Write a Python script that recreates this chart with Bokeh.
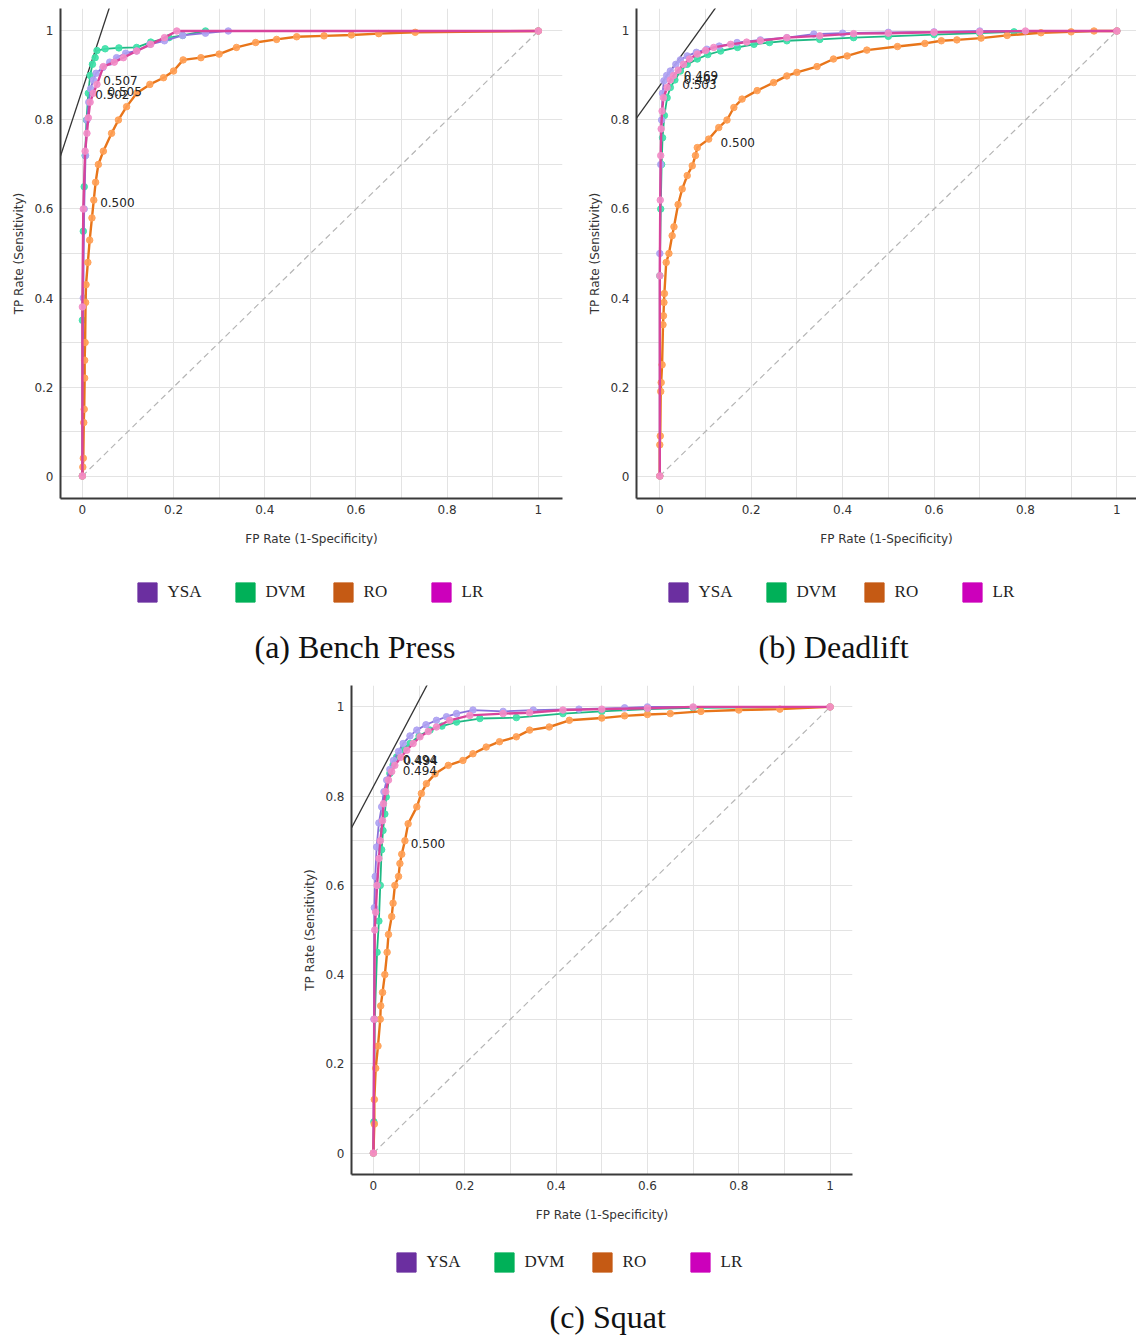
import numpy as np
from bokeh.plotting import figure
from bokeh.models import Range1d, FixedTicker, Legend, LegendItem, Label, ColumnDataSource, Spacer
from bokeh.layouts import column, row
from bokeh.core.properties import value
from bokeh.embed import file_html
from bokeh.resources import INLINE

# ---------------- axis ticks ----------------
TICKS = [0.0, 0.2, 0.4, 0.6, 0.8, 1.0]
TICK_LABELS = ["0", "0.2", "0.4", "0.6", "0.8", "1"]
MINOR_TICKS = [0.1, 0.3, 0.5, 0.7, 0.9]
MODELS = ["YSA", "DVM", "RO", "LR"]
X_TITLE = "FP Rate (1-Specificity)"
Y_TITLE = "TP Rate (Sensitivity)"

# ---------------- (a) Bench Press ----------------
A_YSA_FPR = [0, 0.002, 0.004, 0.007, 0.01, 0.014, 0.018, 0.024, 0.03, 0.045, 0.06, 0.075, 0.095, 0.119, 0.148, 0.18, 0.22, 0.27, 0.32, 1]
A_YSA_TPR = [0, 0.40, 0.60, 0.72, 0.80, 0.84, 0.87, 0.89, 0.905, 0.918, 0.93, 0.94, 0.95, 0.955, 0.97, 0.978, 0.99, 0.995, 1.0, 1]
A_DVM_FPR = [0, 0.0, 0.002, 0.004, 0.006, 0.009, 0.013, 0.017, 0.022, 0.028, 0.032, 0.05, 0.08, 0.119, 0.15, 0.19, 0.22, 0.27, 1]
A_DVM_TPR = [0, 0.35, 0.55, 0.65, 0.72, 0.80, 0.86, 0.90, 0.925, 0.94, 0.956, 0.96, 0.962, 0.963, 0.975, 0.985, 0.99, 1.0, 1]
A_RO_FPR = [0, 0.001, 0.002, 0.003, 0.004, 0.005, 0.005, 0.006, 0.007, 0.008, 0.012, 0.016, 0.021, 0.025, 0.029, 0.035, 0.046, 0.064, 0.079, 0.097, 0.119, 0.148, 0.178, 0.2, 0.221, 0.26, 0.30, 0.338, 0.38, 0.426, 0.47, 0.53, 0.59, 0.65, 0.73, 1]
A_RO_TPR = [0, 0.02, 0.04, 0.12, 0.15, 0.22, 0.26, 0.30, 0.39, 0.43, 0.48, 0.53, 0.58, 0.62, 0.66, 0.70, 0.73, 0.77, 0.80, 0.83, 0.86, 0.88, 0.895, 0.91, 0.935, 0.94, 0.948, 0.963, 0.974, 0.981, 0.987, 0.989, 0.991, 0.994, 0.997, 1]
A_LR_FPR = [0, 0.0, 0.002, 0.006, 0.01, 0.013, 0.017, 0.024, 0.032, 0.046, 0.07, 0.09, 0.119, 0.15, 0.18, 0.207, 1]
A_LR_TPR = [0, 0.38, 0.60, 0.73, 0.77, 0.805, 0.84, 0.86, 0.88, 0.92, 0.93, 0.94, 0.955, 0.97, 0.985, 1.0, 1]
A_THR_TEXT = ["0.507", "0.505", "0.502", "0.500"]
A_THR_X = [0.046, 0.055, 0.028, 0.039]
A_THR_Y = [0.889, 0.865, 0.857, 0.614]
A_ISO_X = [-0.05, 0.07]
A_ISO_Y = [0.713, 1.086]

# ---------------- (b) Deadlift ----------------
B_YSA_FPR = [0, 0.0, 0.002, 0.004, 0.006, 0.009, 0.015, 0.023, 0.035, 0.045, 0.06, 0.08, 0.103, 0.13, 0.169, 0.22, 0.278, 0.337, 0.4, 0.5, 0.6, 0.7, 1]
B_YSA_TPR = [0, 0.50, 0.70, 0.80, 0.86, 0.888, 0.90, 0.91, 0.925, 0.935, 0.944, 0.952, 0.959, 0.966, 0.974, 0.98, 0.985, 0.993, 0.995, 0.997, 0.998, 1.0, 1]
B_DVM_FPR = [0, 0.0, 0.002, 0.004, 0.006, 0.01, 0.016, 0.023, 0.033, 0.045, 0.06, 0.082, 0.105, 0.133, 0.17, 0.206, 0.24, 0.278, 0.35, 0.424, 0.5, 0.6, 0.7, 0.775, 1]
B_DVM_TPR = [0, 0.45, 0.60, 0.70, 0.76, 0.81, 0.85, 0.873, 0.89, 0.91, 0.925, 0.937, 0.947, 0.955, 0.963, 0.97, 0.974, 0.978, 0.981, 0.985, 0.988, 0.992, 0.995, 0.998, 1]
B_RO_FPR = [0, 0.0, 0.001, 0.002, 0.003, 0.005, 0.007, 0.008, 0.009, 0.010, 0.014, 0.02, 0.027, 0.031, 0.04, 0.049, 0.06, 0.071, 0.078, 0.082, 0.107, 0.129, 0.147, 0.162, 0.18, 0.213, 0.249, 0.278, 0.30, 0.344, 0.38, 0.41, 0.453, 0.52, 0.58, 0.616, 0.65, 0.703, 0.76, 0.834, 0.9, 0.95, 1]
B_RO_TPR = [0, 0.07, 0.09, 0.19, 0.21, 0.25, 0.34, 0.36, 0.39, 0.41, 0.48, 0.50, 0.54, 0.56, 0.61, 0.645, 0.675, 0.697, 0.72, 0.738, 0.757, 0.783, 0.80, 0.828, 0.847, 0.866, 0.884, 0.899, 0.907, 0.92, 0.937, 0.944, 0.957, 0.965, 0.972, 0.978, 0.98, 0.984, 0.99, 0.996, 0.998, 1.0, 1]
B_LR_FPR = [0, 0.0, 0.001, 0.002, 0.003, 0.005, 0.008, 0.016, 0.023, 0.03, 0.04, 0.052, 0.065, 0.082, 0.1, 0.118, 0.155, 0.19, 0.22, 0.278, 0.35, 0.424, 0.5, 0.6, 0.7, 0.8, 1]
B_LR_TPR = [0, 0.45, 0.62, 0.72, 0.78, 0.82, 0.85, 0.873, 0.89, 0.90, 0.912, 0.925, 0.937, 0.948, 0.956, 0.963, 0.97, 0.975, 0.978, 0.985, 0.989, 0.994, 0.995, 0.997, 0.998, 1.0, 1]
B_THR_TEXT = ["0.469", "0.497", "0.503", "0.500"]
B_THR_X = [0.0525, 0.0525, 0.049, 0.133]
B_THR_Y = [0.901, 0.892, 0.880, 0.750]
B_ISO_X = [-0.051, 0.122]
B_ISO_Y = [0.804, 1.052]

# ---------------- (c) Squat ----------------
C_YSA_FPR = [0, 0.001, 0.002, 0.004, 0.007, 0.012, 0.018, 0.023, 0.029, 0.036, 0.044, 0.055, 0.065, 0.08, 0.095, 0.115, 0.138, 0.16, 0.182, 0.218, 0.284, 0.35, 0.45, 0.55, 0.6, 1]
C_YSA_TPR = [0, 0.30, 0.55, 0.62, 0.686, 0.74, 0.776, 0.81, 0.836, 0.86, 0.88, 0.90, 0.918, 0.935, 0.948, 0.96, 0.97, 0.978, 0.985, 0.993, 0.99, 0.993, 0.995, 0.998, 1.0, 1]
C_DVM_FPR = [0, 0.001, 0.003, 0.008, 0.012, 0.015, 0.018, 0.021, 0.025, 0.028, 0.036, 0.043, 0.051, 0.065, 0.08, 0.1, 0.124, 0.15, 0.182, 0.233, 0.313, 0.415, 0.5, 0.6, 0.7, 1]
C_DVM_TPR = [0, 0.07, 0.30, 0.45, 0.52, 0.60, 0.68, 0.723, 0.76, 0.798, 0.851, 0.87, 0.888, 0.905, 0.918, 0.935, 0.948, 0.957, 0.966, 0.974, 0.976, 0.985, 0.99, 0.995, 0.998, 1]
C_RO_FPR = [0, 0.002, 0.002, 0.005, 0.01, 0.015, 0.016, 0.02, 0.025, 0.03, 0.033, 0.04, 0.043, 0.047, 0.055, 0.058, 0.062, 0.069, 0.076, 0.095, 0.105, 0.116, 0.135, 0.164, 0.196, 0.218, 0.247, 0.276, 0.313, 0.342, 0.385, 0.429, 0.5, 0.55, 0.6, 0.65, 0.717, 0.8, 0.89, 1]
C_RO_TPR = [0, 0.065, 0.12, 0.19, 0.24, 0.30, 0.33, 0.36, 0.40, 0.45, 0.49, 0.53, 0.56, 0.60, 0.62, 0.649, 0.67, 0.70, 0.738, 0.776, 0.806, 0.828, 0.85, 0.869, 0.88, 0.895, 0.91, 0.922, 0.933, 0.948, 0.955, 0.97, 0.975, 0.98, 0.983, 0.985, 0.99, 0.993, 0.995, 1]
C_LR_FPR = [0, 0.002, 0.003, 0.005, 0.008, 0.012, 0.015, 0.02, 0.022, 0.027, 0.033, 0.04, 0.047, 0.06, 0.073, 0.087, 0.102, 0.12, 0.138, 0.167, 0.211, 0.284, 0.342, 0.415, 0.5, 0.6, 0.7, 1]
C_LR_TPR = [0, 0.30, 0.50, 0.54, 0.60, 0.66, 0.70, 0.745, 0.783, 0.81, 0.836, 0.855, 0.869, 0.887, 0.903, 0.918, 0.933, 0.945, 0.955, 0.97, 0.981, 0.985, 0.987, 0.993, 0.995, 0.997, 1.0, 1]
C_THR_TEXT = ["0.494", "0.494", "0.494", "0.500"]
C_THR_X = [0.064, 0.066, 0.064, 0.082]
C_THR_Y = [0.882, 0.880, 0.858, 0.693]
C_ISO_X = [-0.049, 0.118]
C_ISO_Y = [0.727, 1.050]

# ---------------- styling ----------------
LEGEND_COLORS = {"YSA": "#6b2fa0", "DVM": "#00b058", "RO": "#c55a14", "LR": "#cc00bb"}
POINT_COLORS = {"YSA": "#aea2f2", "DVM": "#3ee0a8", "RO": "#ffa055", "LR": "#f28ec8"}
LINE_COLORS = {"YSA": "#8a70da", "DVM": "#20b884", "RO": "#e8751a", "LR": "#d8449c"}
DRAW_ORDER = ["DVM", "YSA", "RO", "LR"]
SANS = "DejaVu Sans"
SERIF = "Liberation Serif"


def make_panel(curves, thr, iso, frame_w, frame_h, xr, yr, borders):
    bl, br, bt, bb = borders
    p = figure(frame_width=frame_w, frame_height=frame_h,
               x_range=Range1d(*xr), y_range=Range1d(*yr),
               output_backend="svg", toolbar_location=None,
               min_border_left=bl, min_border_right=br,
               min_border_top=bt, min_border_bottom=bb)
    p.outline_line_color = None
    p.background_fill_color = "white"
    p.border_fill_color = "white"
    overrides = {t: lab for t, lab in zip(TICKS, TICK_LABELS)}
    for ax, title in ((p.xaxis[0], X_TITLE), (p.yaxis[0], Y_TITLE)):
        ax.ticker = FixedTicker(ticks=TICKS, minor_ticks=MINOR_TICKS)
        ax.major_label_overrides = overrides
        ax.major_tick_line_color = None
        ax.minor_tick_line_color = None
        ax.major_tick_out = 0
        ax.major_tick_in = 0
        ax.minor_tick_out = 0
        ax.minor_tick_in = 0
        ax.axis_line_color = "#3a3a3a"
        ax.axis_line_width = 2
        ax.major_label_text_font = SANS
        ax.major_label_text_font_size = "12px"
        ax.major_label_text_color = "#333333"
        ax.axis_label = title
        ax.axis_label_text_font = SANS
        ax.axis_label_text_font_size = "12px"
        ax.axis_label_text_font_style = "normal"
        ax.axis_label_text_color = "#333333"
    p.xaxis.major_label_standoff = 6
    p.xaxis.axis_label_standoff = 15
    p.yaxis.major_label_standoff = 7
    p.yaxis.axis_label_standoff = 5
    for g in (p.xgrid[0], p.ygrid[0]):
        g.grid_line_color = "#e3e3e3"
        g.minor_grid_line_color = "#e3e3e3"

    # diagonal of a random classifier
    p.line(x=TICKS, y=TICKS, line_color="#b5b5b5", line_width=1.2, line_dash="6 4")
    # iso-performance line
    p.line(x=iso[0], y=iso[1], line_color="#333333", line_width=1.3)

    for m in DRAW_ORDER:
        fx, ty = curves[m]
        src = ColumnDataSource(dict(x=fx, y=ty))
        p.line("x", "y", source=src, line_color=LINE_COLORS[m],
               line_width=2.4 if m in ("LR", "RO") else 1.8)
        p.scatter("x", "y", source=src, size=6.5, fill_color=POINT_COLORS[m],
                  line_color=POINT_COLORS[m], alpha=0.9)

    p.text(x=thr[1], y=thr[2], text=thr[0], text_font=value(SANS),
           text_font_size="12px", text_color="#222222",
           text_baseline="middle", text_align="left")
    return p


def make_footer(width, height, legend_xy, caption, caption_xy):
    f = figure(frame_width=width, frame_height=height,
               x_range=Range1d(0, width), y_range=Range1d(0, height),
               output_backend="svg", toolbar_location=None,
               x_axis_location=None, y_axis_location=None,
               min_border=0)
    f.outline_line_color = None
    f.xgrid.visible = False
    f.ygrid.visible = False
    f.background_fill_color = "white"
    f.border_fill_color = "white"
    items = []
    nan = np.array([np.nan])
    for m in MODELS:
        # legend proxy: one undefined (NaN) quad, so only the legend swatch shows
        src = ColumnDataSource(dict(l=nan, r=nan, t=nan, b=nan))
        r = f.quad(left="l", right="r", top="t", bottom="b", source=src,
                   fill_color=LEGEND_COLORS[m], line_color=LEGEND_COLORS[m])
        items.append(LegendItem(label=m, renderers=[r]))
    legend = Legend(items=items, location=legend_xy, orientation="horizontal",
                    glyph_width=24, glyph_height=24, label_standoff=9,
                    label_width=65, spacing=0, padding=5, margin=0,
                    border_line_color=None, background_fill_alpha=0,
                    label_text_font=SERIF, label_text_font_size="17px",
                    label_text_color="#222222")
    f.add_layout(legend)
    f.add_layout(Label(x=caption_xy[0], y=caption_xy[1], text=caption,
                       text_font=SERIF, text_font_size="32px",
                       text_align="left", text_baseline="middle",
                       text_color="#111111"))
    return f


pa = make_panel(
    {"YSA": (A_YSA_FPR, A_YSA_TPR), "DVM": (A_DVM_FPR, A_DVM_TPR),
     "RO": (A_RO_FPR, A_RO_TPR), "LR": (A_LR_FPR, A_LR_TPR)},
    (A_THR_TEXT, A_THR_X, A_THR_Y), (A_ISO_X, A_ISO_Y),
    502, 490, (-0.048, 1.053), (-0.0505, 1.0505), (60, 14, 8, 62))
fa = make_footer(576, 110, (134.6, 66), "(a) Bench Press", (194, 24))

pb = make_panel(
    {"YSA": (B_YSA_FPR, B_YSA_TPR), "DVM": (B_DVM_FPR, B_DVM_TPR),
     "RO": (B_RO_FPR, B_RO_TPR), "LR": (B_LR_FPR, B_LR_TPR)},
    (B_THR_TEXT, B_THR_X, B_THR_Y), (B_ISO_X, B_ISO_Y),
    500, 490, (-0.051, 1.043), (-0.0505, 1.0505), (60, 0, 8, 62))
fb = make_footer(560, 110, (89.6, 66), "(b) Deadlift", (122, 24))

pc = make_panel(
    {"YSA": (C_YSA_FPR, C_YSA_TPR), "DVM": (C_DVM_FPR, C_DVM_TPR),
     "RO": (C_RO_FPR, C_RO_TPR), "LR": (C_LR_FPR, C_LR_TPR)},
    (C_THR_TEXT, C_THR_X, C_THR_Y), (C_ISO_X, C_ISO_Y),
    501, 489, (-0.048, 1.049), (-0.048, 1.048), (60, 20, 15, 62))
fc = make_footer(581, 99, (102.6, 61), "(c) Squat", (198, 19))

layout = column(row(column(pa, fa), column(pb, fb)),
                row(Spacer(width=291, height=10), column(pc, fc)))

with open("out.html", "w") as f:
    f.write(file_html(layout, INLINE))
